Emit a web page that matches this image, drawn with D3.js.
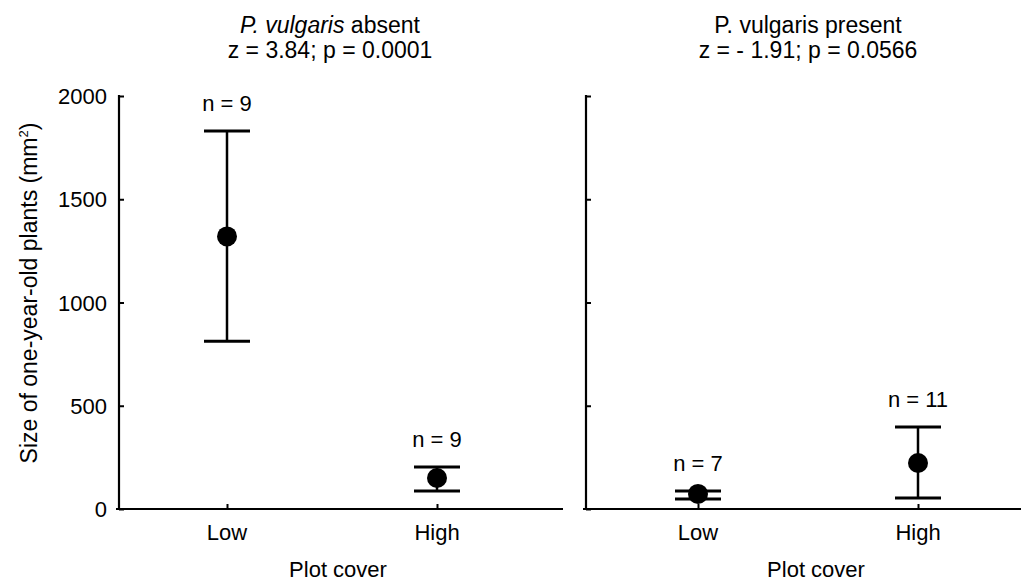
<!DOCTYPE html>
<html>
<head>
<meta charset="utf-8">
<script src="https://cdn.jsdelivr.net/npm/d3@7"></script>
<style>
  body { margin: 0; background: #fff; }
  text { font-family: "Liberation Sans", Arial, sans-serif; fill: #000; }
</style>
</head>
<body>
<div id="main"></div>
<script>
// data
var covers = ["Low", "High"]
var meanAbsent = [1320, 150]
var upperAbsent = [1830, 203]
var lowerAbsent = [812, 87]
var nAbsent = [9, 9]
var meanPresent = [73, 223]
var upperPresent = [87, 397]
var lowerPresent = [48, 53]
var nPresent = [7, 11]
var yTicks = [0, 500, 1000, 1500, 2000]

var W = 1021, H = 586
var fs = 22
var svg = d3.select("#main").append("svg").attr("width", W).attr("height", H)

var y = d3.scaleLinear().domain([0, 2000]).range([509, 96])

var panels = [
  { mean: meanAbsent, upper: upperAbsent, lower: lowerAbsent, n: nAbsent,
    x0: 119, x1: 563, range: [227, 437], labels: true, title: "absent",
    stat: "z = 3.84; p = 0.0001", tx: 330, cx: 338 },
  { mean: meanPresent, upper: upperPresent, lower: lowerPresent, n: nPresent,
    x0: 586, x1: 1030, range: [698, 918], labels: false, title: "present",
    stat: "z = - 1.91; p = 0.0566", tx: 808, cx: 816 }
]

panels.forEach(function(p, pi) {
  var g = svg.append("g")
  var x = d3.scalePoint().domain(covers).range(p.range)

  // y axis
  var ya = d3.axisRight(y).tickValues(yTicks).tickSize(5).tickFormat("")
  var yg = g.append("g").attr("transform", "translate(" + p.x0 + ",0)").call(ya)
  yg.select(".domain").remove()
  yg.selectAll(".tick line").attr("stroke", "#000").attr("stroke-width", 2)
  g.append("line").attr("x1", p.x0).attr("x2", p.x0)
    .attr("y1", y(2000) - 1).attr("y2", y(0))
    .attr("stroke", "#000").attr("stroke-width", 2.2)

  if (p.labels) {
    g.selectAll(".ylab").data(yTicks).enter().append("text")
      .attr("x", p.x0 - 12).attr("y", d => y(d) + 8)
      .attr("text-anchor", "end").attr("font-size", fs)
      .text(d => d)
  }

  // x axis
  var xa = d3.axisTop(x).tickSize(5).tickFormat("")
  var xg = g.append("g").attr("transform", "translate(0," + y(0) + ")").call(xa)
  xg.select(".domain").remove()
  xg.selectAll(".tick line").attr("stroke", "#000").attr("stroke-width", 2)
  g.append("line").attr("x1", p.x0 - 3).attr("x2", p.x1)
    .attr("y1", y(0)).attr("y2", y(0))
    .attr("stroke", "#000").attr("stroke-width", 2.2)

  g.selectAll(".xlab").data(covers).enter().append("text")
    .attr("x", d => x(d)).attr("y", 540)
    .attr("text-anchor", "middle").attr("font-size", fs)
    .text(d => d)
  g.append("text").attr("x", p.cx).attr("y", 577)
    .attr("text-anchor", "middle").attr("font-size", fs)
    .text("Plot cover")

  // error bars
  var cap = 23
  covers.forEach(function(c, i) {
    var cx = x(c)
    g.append("line").attr("x1", cx).attr("x2", cx)
      .attr("y1", y(p.upper[i])).attr("y2", y(p.lower[i]))
      .attr("stroke", "#000").attr("stroke-width", 2.5)
    ;[p.upper[i], p.lower[i]].forEach(function(v) {
      g.append("line").attr("x1", cx - cap).attr("x2", cx + cap)
        .attr("y1", y(v)).attr("y2", y(v))
        .attr("stroke", "#000").attr("stroke-width", 3)
    })
    g.append("circle").attr("cx", cx).attr("cy", y(p.mean[i])).attr("r", 10)
      .attr("fill", "#000")
    g.append("text").attr("x", cx)
      .attr("y", y(p.upper[i]) - 20)
      .attr("text-anchor", "middle").attr("font-size", fs)
      .text("n = " + p.n[i])
  })

  // titles
  var t = g.append("text").attr("x", p.tx).attr("y", 33)
    .attr("text-anchor", "middle").attr("font-size", 23)
  if (pi === 0) {
    t.append("tspan").attr("font-style", "italic").text("P. vulgaris")
    t.append("tspan").text(" " + p.title)
  } else {
    t.text("P. vulgaris " + p.title)
  }
  g.append("text").attr("x", p.tx).attr("y", 58)
    .attr("text-anchor", "middle").attr("font-size", 23)
    .text(p.stat)
})

// y axis title
var yt = svg.append("text").attr("transform", "translate(37,293) rotate(-90)")
  .attr("text-anchor", "middle").attr("font-size", 23)
yt.append("tspan").text("Size of one-year-old plants (mm")
yt.append("tspan").attr("font-size", 13).attr("dy", -9).text("2")
yt.append("tspan").attr("dy", 9).text(")")
</script>
</body>
</html>
